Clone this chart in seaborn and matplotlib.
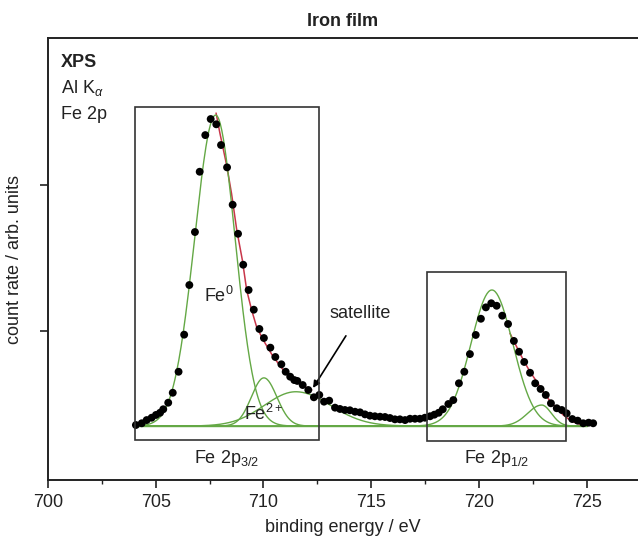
import numpy as np
import pandas as pd
import matplotlib
matplotlib.use("Agg")
import matplotlib.pyplot as plt
import seaborn as sns
from matplotlib.patches import Rectangle
from matplotlib.ticker import MultipleLocator

# measured points (binding energy / eV, count rate in arb. units)
energy = [704.08, 704.35, 704.58, 704.81, 705.01, 705.20, 705.35, 705.58, 705.79, 706.06,
          706.32, 706.56, 706.82, 707.04, 707.30, 707.55, 707.81, 708.03, 708.31, 708.57,
          708.82, 709.06, 709.31, 709.55, 709.81, 710.02, 710.32, 710.55, 710.83, 711.03,
          711.24, 711.43, 711.57, 711.82, 712.08, 712.34, 712.59, 712.81, 713.05, 713.32,
          713.55, 713.78, 714.01, 714.25, 714.48, 714.71, 714.94, 715.17, 715.41, 715.64,
          715.87, 716.10, 716.33, 716.57, 716.80, 717.03, 717.26, 717.49, 717.73, 717.93,
          718.13, 718.32, 718.58, 718.81, 719.07, 719.32, 719.58, 719.85, 720.09, 720.32,
          720.57, 720.82, 721.08, 721.35, 721.62, 721.86, 722.10, 722.37, 722.61, 722.86,
          723.10, 723.34, 723.61, 723.84, 724.07, 724.33, 724.58, 724.84, 725.09, 725.30]
counts = [0.356, 0.368, 0.390, 0.406, 0.425, 0.440, 0.464, 0.509, 0.577, 0.721,
          0.975, 1.315, 1.678, 2.091, 2.342, 2.452, 2.416, 2.274, 2.121, 1.865,
          1.666, 1.454, 1.281, 1.146, 1.014, 0.952, 0.886, 0.822, 0.772, 0.721,
          0.687, 0.664, 0.658, 0.630, 0.596, 0.546, 0.562, 0.516, 0.523, 0.475,
          0.466, 0.459, 0.457, 0.447, 0.443, 0.429, 0.420, 0.416, 0.413, 0.411,
          0.404, 0.395, 0.395, 0.390, 0.399, 0.399, 0.399, 0.406, 0.416, 0.427,
          0.440, 0.464, 0.500, 0.527, 0.642, 0.721, 0.842, 0.973, 1.084, 1.162,
          1.190, 1.173, 1.105, 1.048, 0.932, 0.858, 0.788, 0.714, 0.642, 0.603,
          0.562, 0.505, 0.471, 0.459, 0.436, 0.397, 0.386, 0.368, 0.372, 0.368]

# fit components: centre, height, left / right width
comp_names = ["Fe0 3/2", "Fe2+ 3/2", "satellite", "Fe0 1/2", "Fe2+ 1/2"]
comp_center = [707.78, 710.02, 711.50, 720.60, 722.91]
comp_height = [2.13, 0.330, 0.235, 0.932, 0.144]
comp_sig_left = [0.97, 0.58, 1.45, 0.97, 0.65]
comp_sig_right = [0.90, 0.60, 1.60, 0.97, 0.45]
baseline = 0.349
fit_range = (704.0, 725.0)

# envelope (red) on the high-energy flanks
env1_e = [707.80, 707.98, 708.29, 708.52, 708.76, 709.02, 709.22, 709.45, 709.68,
          709.99, 710.45, 710.92, 711.38, 711.85, 712.24]
env1_y = [2.493, 2.354, 2.137, 1.940, 1.692, 1.486, 1.281, 1.144, 1.029,
          0.938, 0.824, 0.733, 0.664, 0.623, 0.596]
env2_e = [721.44, 721.75, 722.06, 722.37, 722.68, 722.98, 723.29, 723.61, 723.91,
          724.22, 724.53, 724.84]
env2_y = [0.984, 0.892, 0.801, 0.721, 0.653, 0.584, 0.522, 0.471, 0.425,
          0.390, 0.368, 0.356]

sns.set_style("ticks")
plt.rcParams['font.family'] = ['Liberation Sans', 'DejaVu Sans']
plt.rcParams['mathtext.fontset'] = 'custom'
plt.rcParams['mathtext.rm'] = 'Liberation Sans'
plt.rcParams['mathtext.it'] = 'Liberation Sans:italic'
plt.rcParams['font.size'] = 13

txt = "#222222"
green = "#64a845"
red = "#c8364a"

fig = plt.figure(figsize=(6.38, 5.47), dpi=100)
ax = fig.add_axes([0.0752, 0.1225, 0.9248, 0.808])

xs = np.linspace(fit_range[0], fit_range[1], 600)
for c, h, sl, sr in zip(comp_center, comp_height, comp_sig_left, comp_sig_right):
    sig = np.where(xs < c, sl, sr)
    comp = baseline + h * np.exp(-(xs - c) ** 2 / (2 * sig ** 2))
    ax.plot(xs, comp, color=green, lw=1.0, zorder=3)

sns.lineplot(x=env1_e, y=env1_y, ax=ax, color=red, lw=1.1, zorder=2, sort=False)
sns.lineplot(x=env2_e, y=env2_y, ax=ax, color=red, lw=1.1, zorder=2, sort=False)
ax.plot(list(fit_range), [baseline, baseline], color=green, lw=1.0, zorder=3)

df = pd.DataFrame({"energy": energy, "counts": counts})
sns.scatterplot(data=df, x="energy", y="counts", ax=ax, color="black",
                s=32, edgecolor="none", zorder=4)

# region boxes
ax.add_patch(Rectangle((704.04, 0.252), 712.58 - 704.04, 2.532 - 0.252,
                       fill=False, ec="#333333", lw=1.2, zorder=5))
ax.add_patch(Rectangle((717.57, 0.250), 724.02 - 717.57, 1.402 - 0.250,
                       fill=False, ec="#333333", lw=1.2, zorder=5))
ax.text(708.3, 0.13, "Fe 2p$_{3/2}$", ha="center", va="center", color=txt, fontsize=13)
ax.text(720.8, 0.13, "Fe 2p$_{1/2}$", ha="center", va="center", color=txt, fontsize=13)

ax.text(707.93, 1.24, "Fe$^{0}$", ha="center", va="center", color=txt, fontsize=13)
ax.text(710.02, 0.43, "Fe$^{2+}$", ha="center", va="center", color=txt, fontsize=13)
ax.annotate("satellite", xy=(712.3, 0.61), xytext=(714.48, 1.12),
            ha="center", va="center", color=txt, fontsize=13,
            arrowprops=dict(arrowstyle="-|>", color="black", lw=1.2,
                            shrinkA=9, shrinkB=0, mutation_scale=10))

ax.text(700.6, 2.808, "XPS", fontweight="bold", color=txt, fontsize=13, va="baseline")
ax.text(700.6, 2.63, "Al K$_{\\alpha}$", color=txt, fontsize=13, va="baseline")
ax.text(700.6, 2.455, "Fe 2p", color=txt, fontsize=13, va="baseline")

ax.set_xlim(700, 727.38)
ax.set_ylim(-0.0205, 3.007)
ax.xaxis.set_major_locator(MultipleLocator(5))
ax.xaxis.set_minor_locator(MultipleLocator(2.5))
ax.set_yticks([1, 2])
ax.set_yticklabels([])
ax.tick_params(axis="both", which="major", direction="out", length=6, width=1.2,
               colors="#222222", labelsize=13, pad=4)
ax.tick_params(axis="x", which="minor", direction="out", length=3, width=1.0, colors="#222222")
for side in ["left", "bottom", "top"]:
    ax.spines[side].set_linewidth(1.4)
    ax.spines[side].set_color("#222222")
ax.spines["right"].set_visible(False)

ax.set_xlabel("binding energy / eV", fontsize=13, color=txt, labelpad=6)
ax.set_ylabel("count rate / arb. units", fontsize=13, color=txt, labelpad=8)
ax.set_title("Iron film", fontweight="bold", fontsize=13, color=txt, pad=9)

fig.savefig("out.png", dpi=100)
